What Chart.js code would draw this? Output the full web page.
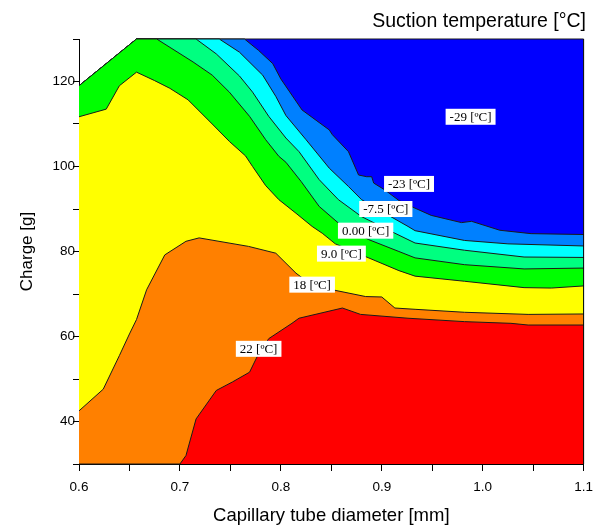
<!DOCTYPE html>
<html>
<head>
<meta charset="utf-8">
<script src="https://cdn.jsdelivr.net/npm/chart.js@4"></script>
<style>
  html, body { margin: 0; padding: 0; background: #fff; }
  #grafico { display: block; }
</style>
</head>
<body>
<canvas id="grafico" width="601" height="527"></canvas>
<script>
// contour edges [diameter mm, charge g] - upper edge of each colour band
const leftEdge = [[0.6, 119], [0.657, 130]];

const redTop = [[0.6, 30], [0.7, 30], [0.706, 32], [0.716, 40.6], [0.736, 47.3], [0.752, 49.3], [0.769, 51.6],
  [0.777, 55.5], [0.788, 59.5], [0.811, 63.1], [0.818, 64.3], [0.861, 66.7], [0.879, 65.2], [0.926, 64.3],
  [0.982, 63.5], [1.028, 63.1], [1.045, 62.7], [1.1, 62.7]];

const orangeTop = [[0.6, 42.5], [0.624, 47.6], [0.640, 55.5], [0.650, 60.6], [0.657, 64], [0.667, 71],
  [0.685, 79.2], [0.706, 82.4], [0.719, 83.2], [0.768, 81.2], [0.795, 79.6], [0.815, 74.9], [0.828, 72.6],
  [0.851, 71], [0.884, 69.4], [0.900, 69.3], [0.913, 66.7], [0.933, 66.4], [0.982, 65.7], [1.045, 65.2], [1.1, 65.3]];

const yellowTop = [[0.6, 111.7], [0.627, 113.5], [0.640, 119], [0.657, 122.2], [0.675, 120.2], [0.690, 118.4],
  [0.708, 115.7], [0.732, 110], [0.749, 105.9], [0.765, 102.5], [0.772, 100], [0.785, 95.5], [0.798, 92.2],
  [0.815, 89], [0.831, 85.9], [0.841, 84.3], [0.854, 81.8], [0.884, 78.8], [0.917, 75.5], [0.933, 74.2],
  [0.982, 73], [1.041, 71.5], [1.068, 71.4], [1.1, 71.9]];

const greenTop = leftEdge.concat([[0.677, 130], [0.713, 124.6], [0.732, 121.5], [0.749, 117.5], [0.769, 111.8],
  [0.785, 106.3], [0.798, 102.4], [0.805, 101], [0.820, 96.5], [0.838, 90.6], [0.857, 86.7], [0.887, 82.8],
  [0.917, 80], [0.933, 78.5], [0.982, 76.9], [1.041, 75.9], [1.1, 76.1]]);

const springTop = leftEdge.concat([[0.716, 130], [0.736, 126.5], [0.759, 121.3], [0.772, 117.5], [0.788, 111.8],
  [0.805, 106.7], [0.818, 103.5], [0.838, 96.9], [0.857, 92.2], [0.880, 88.2], [0.913, 84.3], [0.933, 82],
  [0.982, 80.3], [1.041, 78.7], [1.1, 78.6]]);

const cyanTop = leftEdge.concat([[0.739, 130], [0.759, 126.9], [0.782, 121.5], [0.795, 116.5], [0.805, 112],
  [0.825, 106.3], [0.848, 99.6], [0.867, 95.3], [0.880, 92.2], [0.903, 89], [0.926, 85.9], [0.933, 84.9],
  [0.982, 82.6], [1.025, 81.8], [1.1, 81.3]]);

const azureTop = leftEdge.concat([[0.764, 130], [0.778, 127.3], [0.792, 124.2], [0.800, 120.6], [0.821, 113.3],
  [0.848, 108.6], [0.851, 107.5], [0.867, 103.5], [0.877, 98], [0.885, 97.6], [0.890, 97.6], [0.892, 96.1],
  [0.903, 94.5], [0.917, 92], [0.932, 90.3], [0.949, 88.5], [0.979, 86.8], [0.989, 87.1], [1.017, 85],
  [1.048, 84.2], [1.1, 84]]);

const blueTop = leftEdge.concat([[1.1, 130]]);
const rightEdge = [[1.1, 30], [1.1, 130]];

const bandLines = [redTop, orangeTop, yellowTop, greenTop, springTop, cyanTop, azureTop, blueTop];
const bandColors = ['#FF0000', '#FF8000', '#FFFF00', '#00FF00', '#00FF80', '#00FFFF', '#0080FF', '#0000FF'];

// contour labels
const labelText = ['-29 [ºC]', '-23 [ºC]', '-7.5 [ºC]', '0.00 [ºC]', '9.0 [ºC]', '18 [ºC]', '22 [ºC]'];
const labelX = [0.988, 0.927, 0.904, 0.884, 0.860, 0.831, 0.778];
const labelY = [111.7, 95.9, 90.0, 84.9, 79.5, 72.2, 57.1];

const toPoints = (arr) => arr.map(p => ({ x: p[0], y: p[1] }));

// first dataset is painted last, so red goes on top
const datasets = [{
  data: toPoints(rightEdge),
  borderColor: '#000',
  borderWidth: 1,
  fill: false,
  clip: 3
}];
bandLines.forEach((line, i) => {
  datasets.push({
    data: toPoints(line),
    borderColor: '#1a1a1a',
    borderWidth: 1,
    backgroundColor: bandColors[i],
    fill: 'start',
    clip: 3
  });
});

const etiquetas = {
  id: 'etiquetas',
  afterDatasetsDraw(chart) {
    const { ctx, scales: { x, y } } = chart;
    ctx.save();
    ctx.font = '13px "Liberation Serif"';
    ctx.textAlign = 'center';
    ctx.textBaseline = 'middle';
    labelText.forEach((t, i) => {
      const px = x.getPixelForValue(labelX[i]);
      const py = y.getPixelForValue(labelY[i]);
      const w = ctx.measureText(t).width + 8;
      ctx.fillStyle = '#fff';
      ctx.fillRect(px - w / 2, py - 8, w, 16);
      ctx.fillStyle = '#000';
      ctx.fillText(t, px, py + 1);
    });
    ctx.restore();
  }
};

const tickFont = { family: 'Liberation Sans', size: 13.5 };

new Chart(document.getElementById('grafico'), {
  type: 'line',
  data: { datasets },
  plugins: [etiquetas],
  options: {
    responsive: false,
    animation: false,
    devicePixelRatio: 1,
    layout: { padding: { left: 0, right: 15, top: 0, bottom: 0 } },
    elements: { point: { radius: 0 }, line: { tension: 0 } },
    plugins: {
      legend: { display: false },
      tooltip: { enabled: false },
      title: {
        display: true,
        text: 'Suction temperature [°C]',
        align: 'end',
        color: '#000',
        font: { family: 'Liberation Sans', size: 19.5, weight: 'normal' },
        padding: { top: 10, bottom: 5.6 }
      }
    },
    scales: {
      x: {
        type: 'linear',
        min: 0.6,
        max: 1.1,
        afterFit(scale) { scale.height = 63; },
        ticks: {
          stepSize: 0.05,
          autoSkip: false,
          maxRotation: 0,
          padding: 8,
          color: '#000',
          font: tickFont,
          callback(value) {
            const v = Math.round(value * 100);
            return v % 10 === 0 ? (v / 100).toFixed(1) : '';
          }
        },
        grid: { drawOnChartArea: false, tickLength: 7, tickColor: '#000' },
        border: { color: '#000', width: 1 },
        title: {
          display: true,
          text: 'Capillary tube diameter [mm]',
          color: '#000',
          font: { family: 'Liberation Sans', size: 18.5 },
          padding: { top: 3, bottom: 0 }
        }
      },
      y: {
        min: 30,
        max: 130,
        afterFit(scale) { scale.width = 79; },
        ticks: {
          stepSize: 10,
          autoSkip: false,
          padding: -2,
          color: '#000',
          font: tickFont,
          callback(value) {
            return (value % 20 === 0 && value >= 40 && value <= 120) ? value : '';
          }
        },
        grid: { drawOnChartArea: false, tickLength: 6, tickColor: '#000' },
        border: { color: '#000', width: 1 },
        title: {
          display: true,
          text: 'Charge [g]',
          color: '#000',
          font: { family: 'Liberation Sans', size: 17 },
          padding: { top: 17, bottom: 0 }
        }
      }
    }
  }
});
</script>
</body>
</html>
